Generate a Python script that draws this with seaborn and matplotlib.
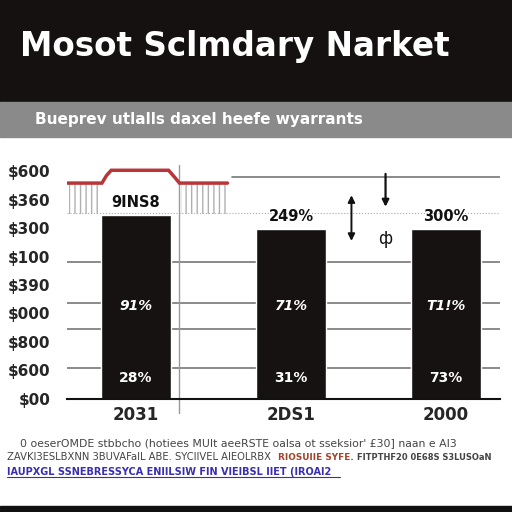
import numpy as np
import pandas as pd
import matplotlib
matplotlib.use("Agg")
import matplotlib.pyplot as plt
from matplotlib.patches import Rectangle
import seaborn as sns

# ─── Data ────────────────────────────────────────────────────────────────
years = ["2031", "2DS1", "2000"]
bar_values = [645, 596, 596]
top_labels = ["9INS8", "249%", "300%"]
mid_labels = ["91%", "71%", "T1!%"]
low_labels = ["28%", "31%", "73%"]
mid_level = 326
low_level = 74

y_ticks = [0, 100, 200, 300, 400, 500, 600, 700, 800]
y_tick_labels = ["$00", "$600", "$800", "$000", "$390", "$100", "$300", "$360", "$600"]
grid_levels = [109, 246, 337, 480]

red_x = [-0.45, -0.22, -0.19, -0.16, 0.21, 0.25, 0.28, 0.59]
red_y = [758, 758, 785, 803, 803, 778, 758, 758]
fringe_spans = [(-0.43, -0.22), (0.29, 0.58)]
fringe_low = 650

title = "Mosot Sclmdary Narket"
subtitle = "Bueprev utlalls daxel heefe wyarrants"
foot1 = "0 oeserOMDE stbbcho (hotiees MUIt aeeRSTE oalsa ot sseksior' £30] naan e AI3"
foot2a = "ZAVKI3ESLBXNN 3BUVAFaIL ABE. SYCIIVEL AIEOLRBX"
foot2b = "RIOSUIIE SYFE."
foot2c = "FITPTHF20 0E68S S3LUSOaN"
foot3 = "IAUPXGL SSNEBRESSYCA ENIILSIW FIN VIEIBSL IIET (IROAI2"

df = pd.DataFrame({"year": years, "value": bar_values})

# ─── Figure ──────────────────────────────────────────────────────────────
sns.set_style("white")
plt.rcParams["font.family"] = ["DejaVu Sans"]

fig = plt.figure(figsize=(5.12, 5.12), dpi=100)
fig.patch.set_facecolor("white")

# header bands
fig.patches.append(Rectangle((0, 0.80), 1, 0.20, transform=fig.transFigure,
                             color="#151111", zorder=0))
fig.patches.append(Rectangle((0, 0.733), 1, 0.067, transform=fig.transFigure,
                             color="#8a8a8a", zorder=0))
fig.patches.append(Rectangle((0, 0), 1, 0.012, transform=fig.transFigure,
                             color="#111111", zorder=0))

fig.text(0.04, 0.91, title, color="white", fontsize=23.5, fontweight="bold",
         va="center", ha="left")
fig.text(0.068, 0.766, subtitle, color="white", fontsize=11, fontweight="bold",
         va="center", ha="left")

ax = fig.add_axes([0.131, 0.221, 0.846, 0.467])

for lvl in grid_levels:
    ax.axhline(lvl, color="#777777", lw=1.2, zorder=0)
ax.axhline(653, color="#aaaaaa", lw=0.8, ls=":", zorder=0)
ax.axhline(779, xmin=0.38, color="#777777", lw=1.2, zorder=0)

sns.barplot(data=df, x="year", y="value", color="#161212", width=0.45,
            saturation=1, ax=ax, zorder=2)

# red stepped line with fringe
ax.plot(red_x, red_y, color="#b8353a", lw=2.5, zorder=3, solid_joinstyle="miter")
for x0, x1 in fringe_spans:
    ax.fill_between([x0, x1], fringe_low, 756, facecolor="none",
                    edgecolor="#b0b0b0", hatch="|||", lw=0, zorder=1)

ax.axvline(0.28, ymin=-0.06, ymax=0.98, color="#999999", lw=1, clip_on=False, zorder=1)

for i, (v, t, m, l) in enumerate(zip(bar_values, top_labels, mid_labels, low_labels)):
    ax.text(i, v + 46, t, ha="center", va="center", fontsize=10.5,
            fontweight="bold", color="#111111")
    ax.text(i, mid_level, m, ha="center", va="center", fontsize=10,
            fontstyle="italic", fontweight="bold", color="white", zorder=4)
    ax.text(i, low_level, l, ha="center", va="center", fontsize=10,
            fontweight="bold", color="white", zorder=4)

# odd arrow marks between bars 2 and 3
ax.annotate("", xy=(1.39, 545), xytext=(1.39, 725),
            arrowprops=dict(arrowstyle="<|-|>", color="#111111", lw=1.4))
ax.annotate("", xy=(1.61, 665), xytext=(1.61, 800),
            arrowprops=dict(arrowstyle="-|>", color="#111111", lw=1.6))
ax.text(1.61, 560, "ф", ha="center", va="center", fontsize=12, color="#111111")

ax.set_xlim(-0.445, 2.35)
ax.set_ylim(0, 840)
ax.set_yticks(y_ticks)
ax.set_yticklabels(y_tick_labels, fontsize=11, fontweight="bold")
ax.set_xticks(range(len(years)))
ax.set_xticklabels(years, fontsize=12, fontweight="bold")
ax.tick_params(axis="y", length=0, pad=12)
ax.tick_params(axis="x", length=0, pad=5)
ax.set_xlabel("")
ax.set_ylabel("")
for side in ["left", "right", "top"]:
    ax.spines[side].set_visible(False)
ax.spines["bottom"].set_color("#111111")
ax.spines["bottom"].set_linewidth(1.5)
ax.patch.set_alpha(0)

# footer notes
fig.text(0.04, 0.135, foot1, fontsize=7.8, color="#444444", va="center")
fig.text(0.014, 0.107, foot2a, fontsize=7.2, color="#444444", va="center")
fig.text(0.543, 0.107, foot2b, fontsize=6.4, color="#a0442a", fontweight="bold", va="center")
fig.text(0.698, 0.107, foot2c, fontsize=6.0, color="#444444", fontweight="bold", va="center")
fig.text(0.014, 0.078, foot3, fontsize=7, color="#3a2fb0", fontweight="bold",
         va="center")
fig.lines.append(plt.Line2D([0.014, 0.665], [0.068, 0.068], transform=fig.transFigure,
                            color="#3a2fb0", lw=0.8))

fig.savefig("out.png", dpi=100)
